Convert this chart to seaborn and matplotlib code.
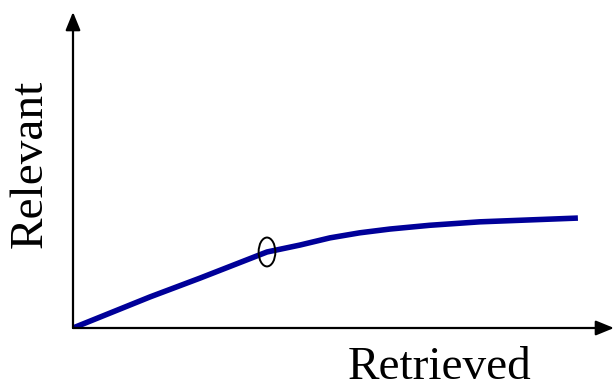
import numpy as np
import pandas as pd
import matplotlib
matplotlib.use('Agg')
import matplotlib.pyplot as plt
import seaborn as sns
from matplotlib.patches import Ellipse

# curve (x = retrieved, y = relevant, 0..100 scale)
retrieved = [0, 14.3, 23.6, 36.0, 42.1, 47.7, 53.2, 58.8, 66.2, 75.5, 93.7]
relevant = [0, 9.9, 15.9, 24.2, 26.4, 28.7, 30.3, 31.5, 32.7, 33.8, 35.0]
marked_point = (36.0, 24.2)

df = pd.DataFrame({'Retrieved': retrieved, 'Relevant': relevant})

sns.set_style('white')
plt.rcParams['font.family'] = ['Liberation Serif', 'DejaVu Serif']
plt.rcParams['text.color'] = 'black'

fig = plt.figure(figsize=(6.14, 3.91), dpi=100)
ax = fig.add_axes([73 / 614, 63 / 391, 541 / 614, 316 / 391])
sns.lineplot(x='Retrieved', y='Relevant', data=df, ax=ax, color='#000099',
             linewidth=4.0, solid_capstyle='butt')
ax.add_patch(Ellipse(marked_point, width=3.1, height=9.2, fill=False,
                     edgecolor='black', linewidth=1.4, zorder=3))
ax.set_xlim(0, 100.4)
ax.set_ylim(0, 100.6)
for s in ax.spines.values():
    s.set_visible(False)
ax.set_xticks([])
ax.set_yticks([])
ax.set_xlabel('')
ax.set_ylabel('')

# axis arrows
arrow = dict(arrowstyle='-|>,head_length=1.1,head_width=0.45', color='black',
             linewidth=1.6, shrinkA=0, shrinkB=0)
ax.annotate('', xy=(0, 1), xytext=(0, 0), xycoords='axes fraction', arrowprops=arrow)
ax.annotate('', xy=(1, 0), xytext=(0, 0), xycoords='axes fraction', arrowprops=arrow)

fig.text(30 / 614, 1 - 164 / 391, 'Relevant', rotation=90, fontsize=34,
         ha='center', va='center', color='black')
fig.text(440 / 614, 1 - 368 / 391, 'Retrieved', fontsize=34,
         ha='center', va='center', color='black')

plt.savefig('out.png', dpi=100)
